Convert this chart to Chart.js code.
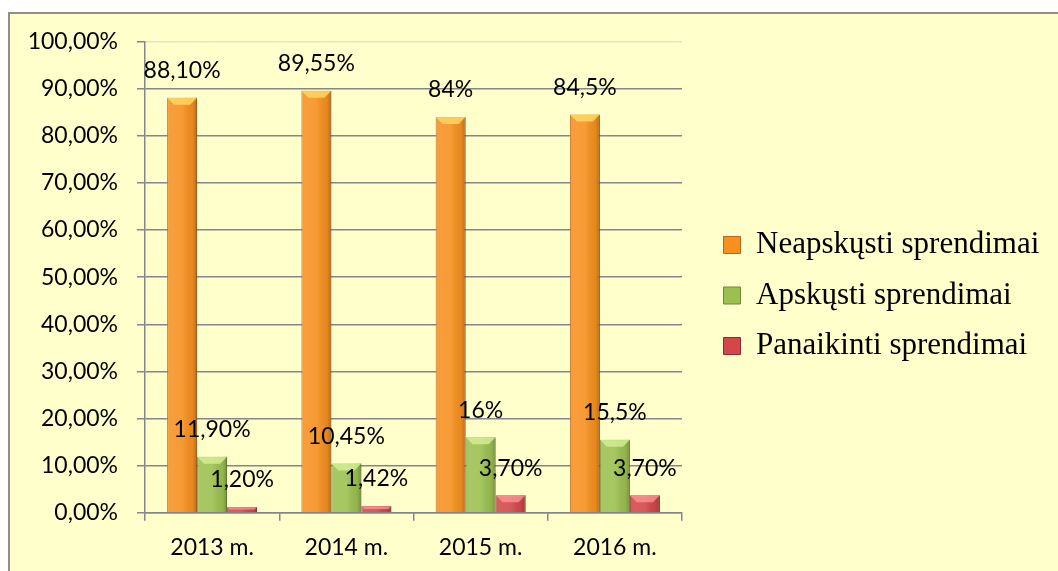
<!DOCTYPE html>
<html><head><meta charset="utf-8">
<script src="https://cdn.jsdelivr.net/npm/chart.js@4"></script>
<style>
html,body{margin:0;padding:0;background:#fff;width:1058px;height:571px;overflow:hidden}
#frame{position:absolute;left:8px;top:12px;width:1060px;height:570px;background:#FFFFCC;border-left:2px solid #8e8e8e;border-top:2px solid #8e8e8e}
#wrap{position:absolute;left:0;top:0;width:1058px;height:571px}
</style></head><body>
<div id="frame"></div>
<div id="wrap"><canvas id="c" width="1058" height="571"></canvas></div>
<script>
const categories = ['2013 m.', '2014 m.', '2015 m.', '2016 m.'];
const seriesNames = ['Neapskųsti sprendimai', 'Apskųsti sprendimai', 'Panaikinti sprendimai'];
const neapskusti = [88.10, 89.55, 84, 84.5];
const apskusti = [11.90, 10.45, 16, 15.5];
const panaikinti = [1.20, 1.42, 3.70, 3.70];
const neapskustiLabels = ['88,10%', '89,55%', '84%', '84,5%'];
const apskustiLabels = ['11,90%', '10,45%', '16%', '15,5%'];
const panaikintiLabels = ['1,20%', '1,42%', '3,70%', '3,70%'];
const yTickLabels = ['0,00%','10,00%','20,00%','30,00%','40,00%','50,00%','60,00%','70,00%','80,00%','90,00%','100,00%'];

const valueLabels = [neapskustiLabels, apskustiLabels, panaikintiLabels];
const bevelColors = ['rgba(255,214,100,0.85)', 'rgba(214,240,150,0.8)', 'rgba(255,150,150,0.75)'];

const sansFamily = 'Lato, Carlito, sans-serif';
const legendFont = {family: '"Liberation Serif", "Times New Roman", serif', size: 31};
const legendPad = 19.5, boxW = 17, spacerW = 22;
const mctx = document.createElement('canvas').getContext('2d');
mctx.font = legendFont.size + 'px ' + legendFont.family;
let maxW = 0;
seriesNames.forEach(s => { maxW = Math.max(maxW, mctx.measureText(s).width); });
const legendWidth = legendPad + boxW + legendFont.size / 2 + maxW + 10;
const padRight = Math.max(0, 1058 - 682 - spacerW - legendWidth);

const bevelPlugin = {
  id: 'bevel',
  afterDatasetsDraw(chart) {
    const ctx = chart.ctx;
    chart.data.datasets.forEach((ds, di) => {
      const meta = chart.getDatasetMeta(di);
      meta.data.forEach(el => {
        const p = el.getProps(['x', 'y', 'base', 'width'], true);
        const l = p.x - p.width / 2, r = p.x + p.width / 2, t = p.y, b = p.base;
        const h = b - t;
        ctx.save();
        const g = ctx.createLinearGradient(l, 0, r, 0);
        g.addColorStop(0, 'rgba(255,255,255,0.08)');
        g.addColorStop(0.12, 'rgba(255,255,255,0.12)');
        g.addColorStop(0.5, 'rgba(255,255,255,0.10)');
        g.addColorStop(0.85, 'rgba(0,0,0,0.06)');
        g.addColorStop(1, 'rgba(0,0,0,0.25)');
        ctx.fillStyle = g;
        ctx.fillRect(l, t, p.width, h);
        const bv = Math.min(7, h / 2);
        ctx.beginPath();
        ctx.moveTo(l, t); ctx.lineTo(r, t); ctx.lineTo(r - bv, t + bv); ctx.lineTo(l + bv, t + bv); ctx.closePath();
        ctx.fillStyle = bevelColors[di];
        ctx.fill();
        ctx.restore();
      });
    });
  }
};

const labelPlugin = {
  id: 'valueLabels',
  afterDatasetsDraw(chart) {
    const ctx = chart.ctx;
    ctx.save();
    ctx.font = '23px ' + sansFamily;
    ctx.fillStyle = '#000';
    ctx.textAlign = 'center';
    ctx.textBaseline = 'middle';
    chart.data.datasets.forEach((ds, di) => {
      const meta = chart.getDatasetMeta(di);
      meta.data.forEach((el, i) => {
        ctx.fillText(valueLabels[di][i], el.x, el.y - 27);
      });
    });
    ctx.restore();
  }
};

new Chart(document.getElementById('c'), {
  type: 'bar',
  data: {
    labels: categories,
    datasets: [
      {label: seriesNames[0], data: neapskusti, backgroundColor: '#F6901F', borderColor: '#B9651C', borderWidth: 1},
      {label: seriesNames[1], data: apskusti, backgroundColor: '#9CC050', borderColor: '#6B8A33', borderWidth: 1},
      {label: seriesNames[2], data: panaikinti, backgroundColor: '#D3474A', borderColor: '#8A2E30', borderWidth: 1}
    ]
  },
  options: {
    responsive: false,
    animation: false,
    devicePixelRatio: 1,
    categoryPercentage: 0.6704,
    barPercentage: 1,
    layout: {padding: {top: 33.3, bottom: 13.3, left: 0, right: padRight}},
    plugins: {
      legend: {
        position: 'right',
        maxWidth: 500,
        labels: {
          font: legendFont,
          color: '#000',
          boxWidth: boxW,
          boxHeight: boxW,
          padding: legendPad
        }
      },
      tooltip: {enabled: false}
    },
    scales: {
      x: {
        grid: {display: true, drawOnChartArea: false, drawTicks: true, tickLength: 8, color: '#85858c', lineWidth: 1.5, offset: true},
        border: {display: true, color: '#85858c', width: 1.5},
        ticks: {font: {family: sansFamily, size: 23}, color: '#000', padding: 13},
        afterFit(s) { s.height = 45; }
      },
      topSpacer: {
        type: 'linear', axis: 'x', position: 'top', display: true,
        grid: {display: false, drawTicks: false}, border: {display: false}, ticks: {display: false},
        afterFit(s) { s.height = 8.3; }
      },
      y: {
        min: 0, max: 100,
        ticks: {stepSize: 10, font: {family: sansFamily, size: 23}, color: '#000', padding: 19,
          callback: (v, i) => yTickLabels[i]},
        grid: {color: c => (c.tick && c.tick.value === 100) ? '#e2e2c4' : '#85858c', lineWidth: 1.5, tickLength: 8, tickColor: '#85858c'},
        border: {display: true, color: '#85858c', width: 1.5},
        afterFit(s) { s.width = 145; }
      },
      spacer: {
        type: 'linear', position: 'right', display: true,
        grid: {display: false, drawTicks: false}, border: {display: false}, ticks: {display: false},
        afterFit(s) { s.width = spacerW; }
      }
    }
  },
  plugins: [bevelPlugin, labelPlugin]
});
</script>
</body></html>
